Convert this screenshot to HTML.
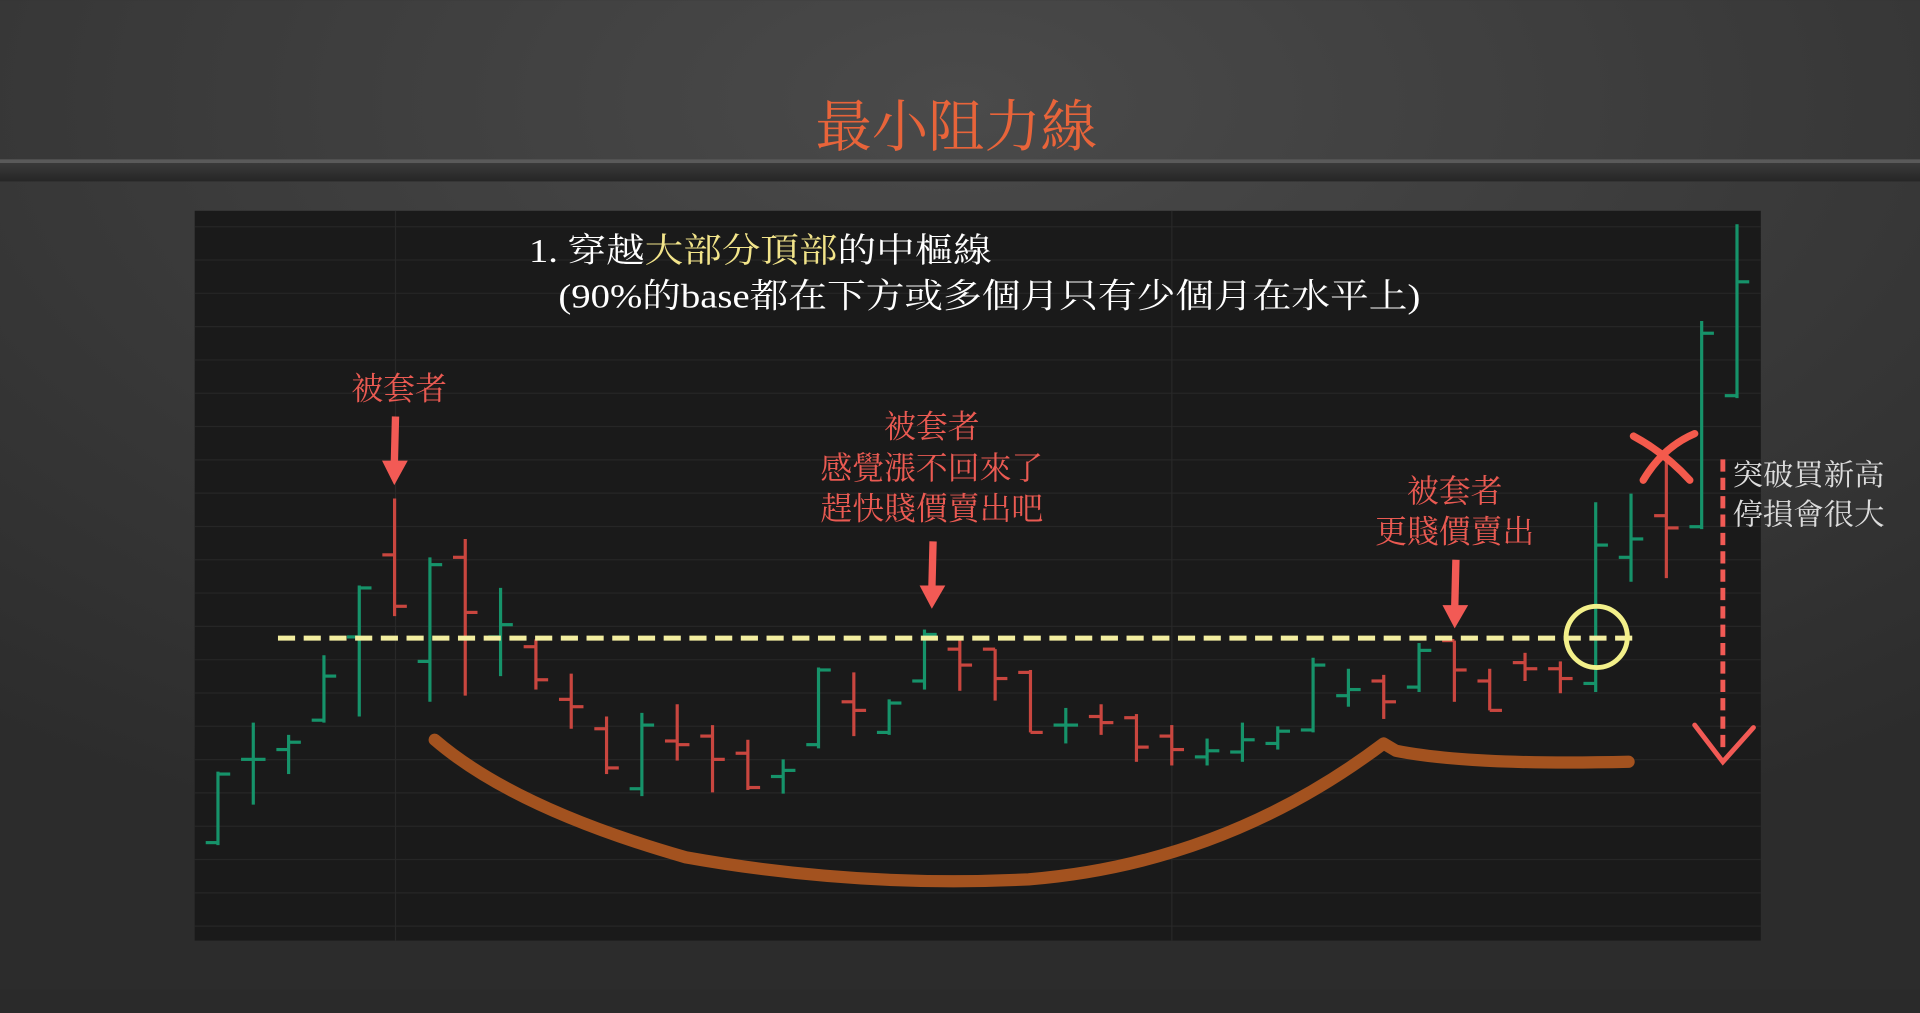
<!DOCTYPE html>
<html><head><meta charset="utf-8">
<style>
html,body{margin:0;padding:0;width:1920px;height:1013px;overflow:hidden;background:#333;}
svg{display:block;}
text{font-family:"Liberation Serif","Noto Serif CJK SC","Noto Sans CJK TC",serif;}
</style></head>
<body>
<svg id="chart" width="1920" height="1013" viewBox="0 0 1568 827" xmlns="http://www.w3.org/2000/svg">
<defs>
<radialGradient id="bgG" cx="0.5" cy="0.1" r="0.8">
<stop offset="0" stop-color="#4a4a4a"/><stop offset="1" stop-color="#2c2c2c"/>
</radialGradient>
<linearGradient id="band" x1="0" y1="0" x2="0" y2="1">
<stop offset="0" stop-color="#3a3a3a"/><stop offset="1" stop-color="#262626"/>
</linearGradient>
</defs>
<rect x="0" y="0" width="1568" height="827" fill="url(#bgG)"/>
<rect x="0" y="130" width="1568" height="3" fill="#5a5a5a"/>
<rect x="0" y="133" width="1568" height="15" fill="url(#band)"/>
<rect x="0" y="808" width="1568" height="19" fill="#2a2a2a"/>
<text x="781" y="119" text-anchor="middle" font-size="46" fill="#e8643a" font-family="'Liberation Sans','Noto Sans CJK TC',sans-serif">最小阻力線</text>
<rect x="159" y="172" width="1279" height="596" fill="#1a1a1a"/>
<g id="grid"></g>
<g id="bars"></g>

<line x1="227" y1="521" x2="1340" y2="521" stroke="#f3eea0" stroke-width="4" stroke-dasharray="14 7"/>
<path d="M355 604 Q420 660 560 700 Q700 725 840 718 Q1000 705 1130 607 L1140 613 Q1200 625 1330 622" fill="none" stroke="#a3521f" stroke-width="10" stroke-linecap="round" stroke-linejoin="round"/>

<text x="432" y="214" font-size="28" fill="#ffffff" textLength="378" lengthAdjust="spacingAndGlyphs">1. 穿越<tspan fill="#f2e48a">大部分頂部</tspan>的中樞線</text>
<text x="456" y="251" font-size="28" fill="#ffffff" textLength="704" lengthAdjust="spacingAndGlyphs">(90%的base都在下方或多個月只有少個月在水平上)</text>

<g fill="#ea5a52" font-size="26">
<text x="326" y="326" text-anchor="middle">被套者</text>
</g>
<g fill="#ea5a52" font-size="26" text-anchor="middle">
<text x="761" y="357">被套者</text>
<text x="761" y="391">感覺漲不回來了</text>
<text x="761" y="424">趕快賤價賣出吧</text>
</g>
<g fill="#ea5a52" font-size="26" text-anchor="middle">
<text x="1188" y="410">被套者</text>
<text x="1188" y="443">更賤價賣出</text>
</g>
<g fill="#f25a55" stroke="#f25a55">
<line x1="323" y1="340" x2="322" y2="380" stroke-width="6"/><polygon points="312,376 333,376 322,396" stroke="none"/>
<line x1="762" y1="442" x2="761" y2="482" stroke-width="6"/><polygon points="751,478 772,478 761,497" stroke="none"/>
<line x1="1189" y1="457" x2="1188" y2="497" stroke-width="6"/><polygon points="1178,494 1199,494 1188,513" stroke="none"/>
</g>
<ellipse cx="1304" cy="520" rx="25" ry="25" fill="none" stroke="#f3f08a" stroke-width="4"/>
<g stroke="#f45a4c" stroke-width="6" stroke-linecap="round" fill="none">
<path d="M1334 356 Q1360 370 1380 392"/><path d="M1384 354 Q1358 365 1342 392"/>
</g>
<line x1="1407" y1="375" x2="1407" y2="612" stroke="#f25a55" stroke-width="4" stroke-dasharray="10 5"/>
<polyline points="1384,592 1407,622 1432,594" fill="none" stroke="#f25a55" stroke-width="4" stroke-linecap="round"/>
<g fill="#dcdcdc" font-size="24">
<text x="1415" y="396" textLength="124" lengthAdjust="spacingAndGlyphs">突破買新高</text>
<text x="1415" y="428" textLength="124" lengthAdjust="spacingAndGlyphs">停損會很大</text>
</g>
</svg>
<script>
// price axis: y = 800 - price (linear). values
const highs = [170,210,200,265,322,393,345,360,320,278,250,215,218,225,208,196,180,255,251,229,286,278,270,253,222,225,217,208,197,210,207,263,254,249,275,277,254,267,260,390,397,423,538,617];
const lows  = [110,143,168,210,215,297,227,232,248,237,205,168,150,179,153,155,152,189,199,200,237,236,228,202,193,200,178,175,175,178,188,202,223,213,235,227,220,244,234,235,325,328,368,475];
const opens = [112,180,188,212,280,347,260,345,280,272,229,205,156,195,199,185,166,192,227,202,244,270,270,251,208,215,214,199,182,186,193,204,232,244,239,277,244,259,254,242,345,379,370,477];
const closes= [168,180,194,248,320,305,339,300,290,245,223,173,208,192,180,157,171,253,220,226,282,257,246,202,208,210,190,188,187,196,203,257,237,227,269,253,220,254,246,355,360,369,528,570];
const x0 = 178, step = 28.85;
function xPos(i){ return x0 + i*step; }
function yPos(p){ return 800 - p; }
const NS="http://www.w3.org/2000/svg";
const grid=document.getElementById('grid');
for(let k=0;k<22;k++){
  const gl=document.createElementNS(NS,'line');
  
  
  const y=185+k*27.2;
  gl.setAttribute('x1',159);gl.setAttribute('x2',1438);gl.setAttribute('y1',y);gl.setAttribute('y2',y);
  gl.setAttribute('stroke','#262626');gl.setAttribute('stroke-width','1');
  grid.appendChild(gl);
}
[323,957].forEach(function(x){
  const vl=document.createElementNS(NS,'line');
  
  
  vl.setAttribute('x1',x);vl.setAttribute('x2',x);vl.setAttribute('y1',172);vl.setAttribute('y2',768);
  vl.setAttribute('stroke','#282828');vl.setAttribute('stroke-width','1');
  grid.appendChild(vl);
});
const g=document.getElementById('bars');
for(let i=0;i<highs.length;i++){
  const x=xPos(i);
  const col = closes[i]>=opens[i] ? '#16936a' : '#c9463f';
  const grp=document.createElementNS(NS,'g');
  
  
  grp.setAttribute('stroke',col);grp.setAttribute('stroke-width','2.6');
  const v=document.createElementNS(NS,'line');
  v.setAttribute('x1',x);v.setAttribute('x2',x);v.setAttribute('y1',yPos(highs[i]));v.setAttribute('y2',yPos(lows[i]));
  const o=document.createElementNS(NS,'line');
  o.setAttribute('x1',x-10);o.setAttribute('x2',x);o.setAttribute('y1',yPos(opens[i]));o.setAttribute('y2',yPos(opens[i]));
  const c=document.createElementNS(NS,'line');
  c.setAttribute('x1',x);c.setAttribute('x2',x+10);c.setAttribute('y1',yPos(closes[i]));c.setAttribute('y2',yPos(closes[i]));
  grp.appendChild(v);grp.appendChild(o);grp.appendChild(c);
  g.appendChild(grp);
}
</script>
</body></html>
